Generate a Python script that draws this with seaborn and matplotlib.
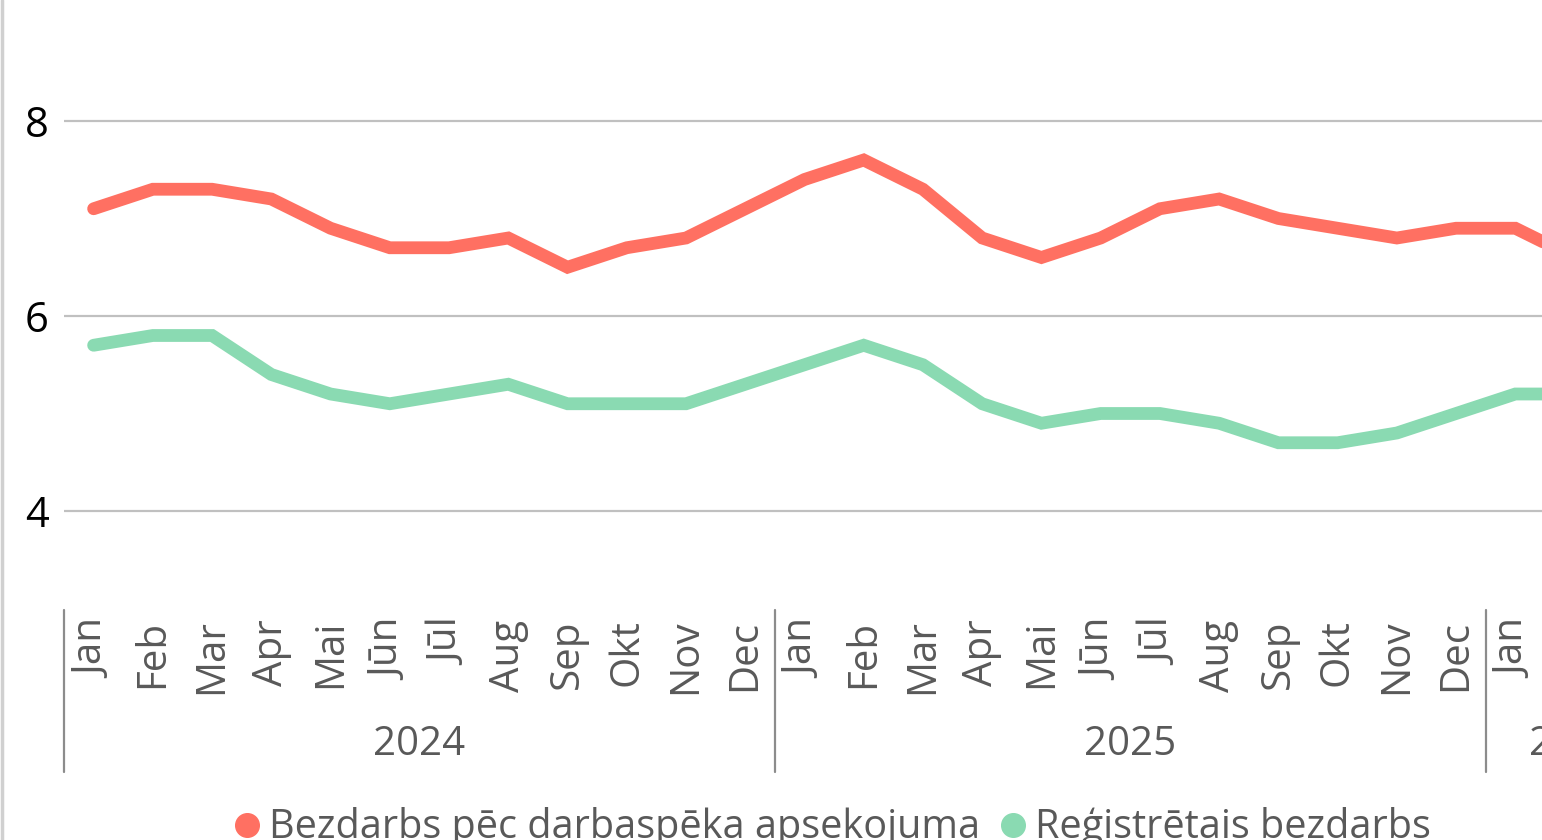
import pandas as pd
import seaborn as sns
import matplotlib.pyplot as plt
from matplotlib.lines import Line2D
from matplotlib.transforms import blended_transform_factory

# data (percent)
months = ["Jan", "Feb", "Mar", "Apr", "Mai", "Jūn", "Jūl", "Aug", "Sep", "Okt", "Nov", "Dec",
          "Jan", "Feb", "Mar", "Apr", "Mai", "Jūn", "Jūl", "Aug", "Sep", "Okt", "Nov", "Dec",
          "Jan", "Feb"]
years = ["2024", "2025", "2026"]
year_months = [12, 12, 3]

survey = [7.1, 7.3, 7.3, 7.2, 6.9, 6.7, 6.7, 6.8, 6.5, 6.7, 6.8, 7.1,
          7.4, 7.6, 7.3, 6.8, 6.6, 6.8, 7.1, 7.2, 7.0, 6.9, 6.8, 6.9,
          6.9, 6.6]
registered = [5.7, 5.8, 5.8, 5.4, 5.2, 5.1, 5.2, 5.3, 5.1, 5.1, 5.1, 5.3,
              5.5, 5.7, 5.5, 5.1, 4.9, 5.0, 5.0, 4.9, 4.7, 4.7, 4.8, 5.0,
              5.2, 5.2]

series_names = ["Bezdarbs pēc darbaspēka apsekojuma", "Reģistrētais bezdarbs"]
colors = ["#FF7062", "#8ADAB2"]

df = pd.DataFrame({
    "idx": list(range(len(survey))) * 2,
    "value": survey + registered,
    "series": [series_names[0]] * len(survey) + [series_names[1]] * len(registered),
})

sns.set_theme(style="white")
plt.rcParams["font.family"] = ["Open Sans", "DejaVu Sans"]

fig = plt.figure(figsize=(15.42, 8.4), dpi=100)
ax = fig.add_axes([64 / 1542, 231.5 / 840, 1478 / 1542, 585 / 840])

sns.lineplot(data=df, x="idx", y="value", hue="series", palette=colors,
             linewidth=9.2, ax=ax, legend=False, zorder=3)
for line in ax.lines:
    line.set_solid_capstyle("round")
    line.set_solid_joinstyle("miter")

ax.set_yticks([4, 6, 8])
ax.yaxis.grid(True, color="#C0C0C0", linewidth=1.6)
ax.tick_params(axis="y", length=0, labelsize=30, labelcolor="black", pad=11)
ax.set_xticks(range(len(months)))
ax.set_xticklabels(months, rotation=90, fontsize=29, color="#595959")
ax.tick_params(axis="x", length=0, pad=8)
ax.set_ylim(3, 9)
ax.set_xlim(-0.5, 24.45)
ax.set_xlabel("")
ax.set_ylabel("")
for s in ax.spines.values():
    s.set_visible(False)

# year groups under the month labels
trans = blended_transform_factory(ax.transData, fig.transFigure)
start = -0.5
for yr, n in zip(years, year_months):
    ax.add_line(Line2D([start, start], [1 - 610 / 840, 1 - 772 / 840], transform=trans,
                       color="#8C8C8C", linewidth=1.6, clip_on=False))
    ax.text(start + n / 2, 1 - 745 / 840, yr, transform=trans, ha="center", va="center",
            fontsize=29, color="#595959", clip_on=False)
    start += n

# chart border at the left edge
fig.add_artist(Line2D([0.0012, 0.0012], [0, 1], color="#D0D0D0", linewidth=2.5))

handles = [Line2D([], [], marker="o", linestyle="", markersize=17, color=c) for c in colors]
fig.legend(handles, series_names, loc="center", bbox_to_anchor=(829 / 1542, 1 - 828 / 840),
           ncol=2, frameon=False, fontsize=28.5, labelcolor="#595959",
           handletextpad=0.05, columnspacing=0.35, handlelength=1.0)

fig.savefig("out.png", dpi=100)
